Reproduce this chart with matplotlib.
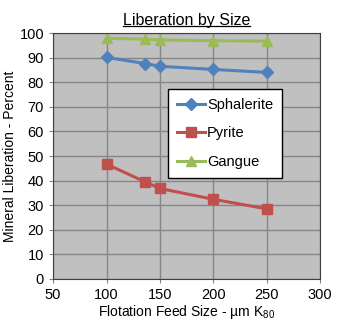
import matplotlib
matplotlib.use('Agg')
import matplotlib.pyplot as plt

plt.rcParams['font.family'] = ['Liberation Sans', 'DejaVu Sans']
plt.rcParams['mathtext.default'] = 'regular'

feed_size = [100, 136, 150, 200, 250]
sphalerite = [90.1, 87.6, 86.5, 85.2, 84.0]
pyrite = [46.7, 39.5, 36.8, 32.4, 28.5]
gangue = [97.9, 97.5, 97.2, 96.9, 96.7]

fig = plt.figure(figsize=(3.45, 3.24), dpi=100)
ax = fig.add_axes([0.154, 0.139, 0.774, 0.759])
ax.set_facecolor('#c0c0c0')

ax.plot(feed_size, sphalerite, color='#4f81bd', marker='D', markersize=6, lw=2.2, label='Sphalerite')
ax.plot(feed_size, pyrite, color='#c0504d', marker='s', markersize=7, lw=2.2, label='Pyrite')
ax.plot(feed_size, gangue, color='#9bbb59', marker='^', markersize=7, lw=2.2, label='Gangue')

ax.set_xlim(50, 300)
ax.set_ylim(0, 100)
ax.set_xticks(range(50, 301, 50))
ax.set_yticks(range(0, 101, 10))
ax.grid(True, color='#868686', lw=1)
ax.set_axisbelow(True)
ax.tick_params(labelsize=10.5, direction='out', length=3, color='#868686')
for s in ax.spines.values():
    s.set_color('#404040')

ax.set_xlabel('Flotation Feed Size - µm K$_{80}$', fontsize=10, labelpad=1)
ax.set_ylabel('Mineral Liberation - Percent', fontsize=10, labelpad=2)
ax.set_title('Liberation by Size', fontsize=11.5, pad=6)

# underline the title
fig.canvas.draw()
bb = ax.title.get_window_extent().transformed(fig.transFigure.inverted())
fig.add_artist(plt.Line2D([bb.x0, bb.x1], [bb.y0 + 0.004, bb.y0 + 0.004], color='black', lw=0.9))

leg = ax.legend(loc='upper left', bbox_to_anchor=(0.431, 0.772), borderaxespad=0,
                frameon=True, fancybox=False, edgecolor='black', framealpha=1,
                fontsize=10.5, handlelength=1.9, labelspacing=1.0, borderpad=0.6,
                handletextpad=0.15)
leg.get_frame().set_linewidth(1)

fig.savefig('out.png', dpi=100)
